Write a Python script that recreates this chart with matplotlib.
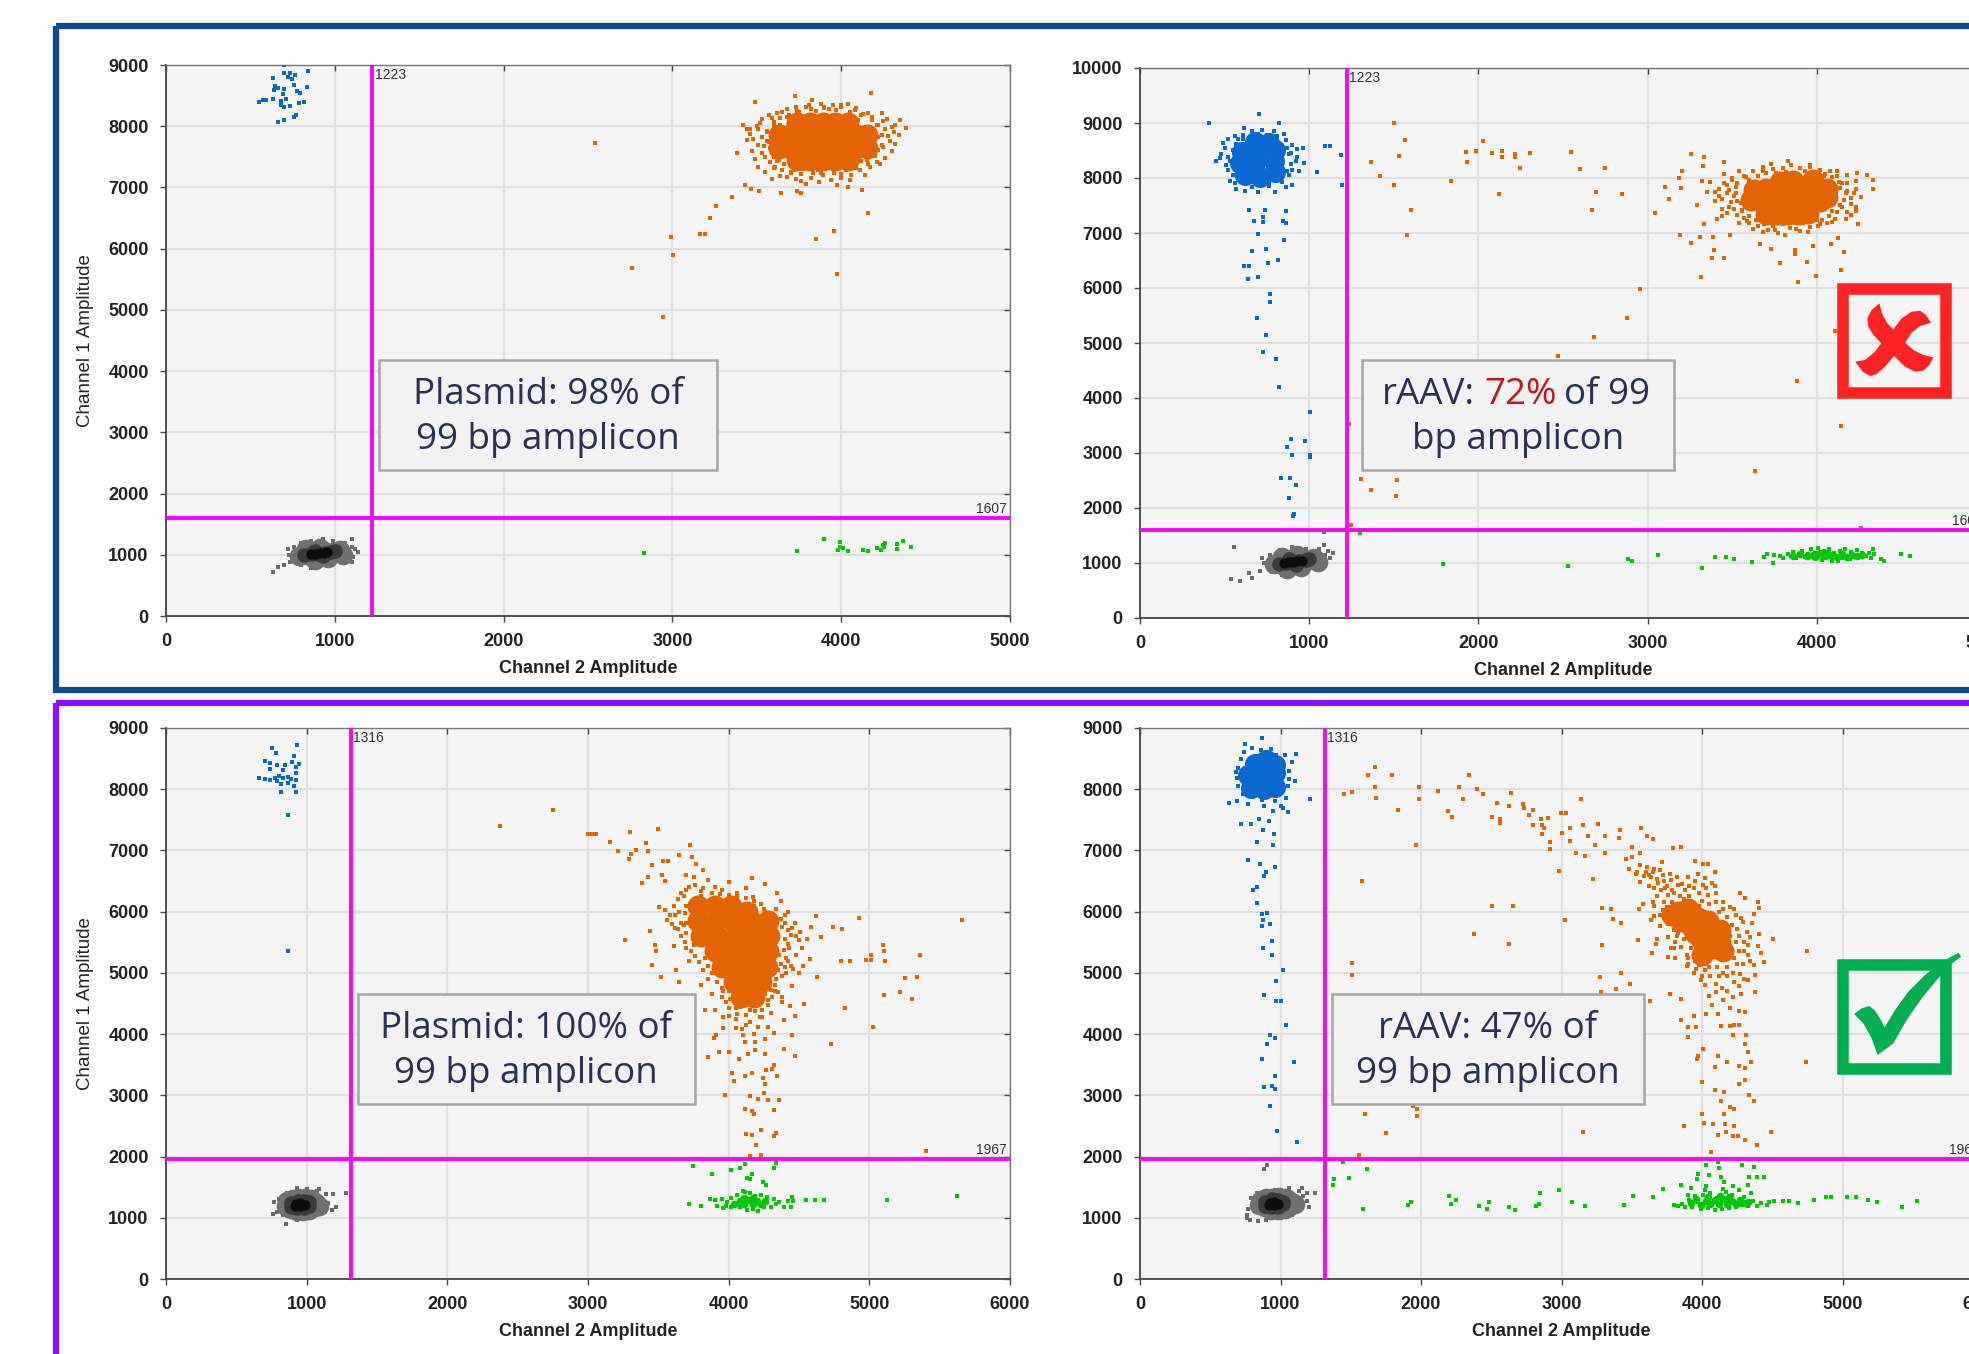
import matplotlib
matplotlib.use('Agg')
import matplotlib.pyplot as plt
from matplotlib.patches import Rectangle, Polygon
import matplotlib.lines as mlines

W, H = 1969, 1354

# Top-left panel: plasmid, threshold 1223 / 1607
a_blue = [(702,9000),(844,8894),(699,8873),(733,8866),(767,8838),(725,8802),(748,8767),(634,8788),(760,8681),
          (645,8653),(664,8625),(637,8590),(702,8604),(836,8639),(779,8582),(794,8540),(695,8519),(634,8448),
          (595,8433),(573,8426),(550,8391),(683,8412),(710,8448),(817,8398),(790,8384),(683,8341),(702,8306),
          (733,8327),(771,8185),(760,8150),(702,8100),(664,8065)]
a_orange = [(2542,7731),(2760,5683),(2989,6194),(3004,5903),(2943,4883),(3164,6236),(3195,6236),(3225,6505),
            (3256,6690),(3355,6845),(3431,7044),(3466,6980),(3515,6945),(3641,6902),(3737,6945),(3763,6902),
            (3851,6158),(3958,6293),(3977,5591),(4156,6590),(4126,6966),(4042,7001),(3977,7037),(3725,8497),
            (3492,8390),(4176,8539),(3828,8433),(4385,7972),(4347,8100),
            (3440,7950),(3460,7880),(3420,8020),(3500,8010),(3530,8120),(3570,8180),(3600,8070),(3650,8230),
            (3680,8150),(3740,8250),(3790,8310),(3850,8250),(3900,8320),(3950,8350),(4000,8310),(4040,8370),
            (4080,8260),(4130,8200),(4180,8150),(4240,8210),(4270,8120),(4300,7980),(4340,7860),(4290,7760),
            (4250,7660),(4200,7520),(4210,7420),(4170,7340),(4110,7280),(4060,7210),(4000,7150),(3940,7120),
            (3880,7230),(3820,7160),(3760,7100),(3700,7240),(3640,7180),(3590,7130),(3550,7260),(3510,7340),
            (3490,7470),(3530,7560),(3470,7600),(3510,7690),(3560,7760),(3380,7570),(3600,7320),(3660,7380),
            (3720,7290),(3790,7330),(3860,7350),(3950,7300),(4050,7350),(4120,7430),(4150,7550),(4180,7650),
            (4220,7820),(4150,7950),(4210,8020),(4100,8100),(3980,8190),(3880,8130),(3760,8130),(3640,8020),
            (3560,7920),(3600,7500),(3580,7640),(3630,7450),(4100,7600),(4000,7220),
            (3560,7900),(3590,7600),(3570,7750),(3600,8000),(3620,7440),(3640,8130),(3660,7380),(3690,8190),
            (3720,7340),(3750,8240),(3780,7300),(3820,8280),(3860,7290),(3900,8290),(3930,7310),(3970,8270),
            (4010,7340),(4050,8230),(4080,7390),(4120,8180),(4150,7450),(4180,8100),(4190,7520),(4220,8020),
            (4220,7610),(4260,7950),(4240,7700),(4240,7850),(3540,7680),(3530,7820),(3550,7500),(3580,7420),
            (3610,7340),(3650,7280),(3700,7260),(3760,7220),(3830,7240),(3890,7210),(3960,7240),(4030,7280),
            (4090,7320),(4160,7380),(3620,8210),(3680,8280),(3730,8320),(3810,8350),(3880,8360),(3930,8280),
            (4000,8340),(4090,8290),(4160,8220),(4250,8080),(4310,7900),(4280,7840),(4320,8020),(3510,7950),
            (3480,7790),(3520,8060),(3590,8130),(3460,7960),(3440,7770),(3680,7170),(3730,7130),(3790,7050),
            (3870,7090),(4050,7120),(4140,7200),(4260,7480),(4230,7380),(4300,7590),(4320,7710)]
a_orange_core = [(3740,7450),(3815,7450),(3890,7450),(3965,7450),(4040,7450),(3630,7650),(3695,7650),(3760,7650),(3825,7650),
                 (3890,7650),(3955,7650),(4020,7650),(4085,7650),(4150,7650),(3630,7850),(3695,7850),(3760,7850),(3825,7850),
                 (3890,7850),(3955,7850),(4020,7850),(4085,7850),(4150,7850),(3740,8050),(3815,8050),(3890,8050),(3965,8050),(4040,8050)]
a_green = [(2832,1035),(3737,1056),(3901,1254),(3993,1205),(3981,1084),(4012,1113),(4042,1056),(4130,1077),
           (4160,1056),(4214,1113),(4233,1077),(4260,1198),(4252,1127),(4329,1169),(4329,1098),(4367,1219),
           (4412,1127),(3995,1120),(4245,1165)]
a_gray = [(634,723),(664,794),(702,830),(735,880),(730,1000),(720,1090),(760,1130),(800,1190),(860,1230),(930,1250),(990,1230),
          (1060,1190),(1100,1130),(1140,1040),(1100,1260),(1110,960),(1060,900),(980,850),(900,800),(860,790),
          (800,840),(1120,1100),(1100,880),(770,900)]
a_gray_mid = [(790,980),(830,1000),(870,1010),(910,1020),(950,1040),(990,1050),(1030,1070),(830,1090),(910,1110),(880,920),(960,950),(1050,990)]
a_gray_dark = [(820,1000),(860,1010),(900,1020),(940,1030),(980,1050),(1000,1060),(880,1060),(930,980)]
a_black = [(860,1015),(885,1020),(910,1030),(935,1035),(955,1040)]

# Top-right panel: rAAV, threshold 1223 / 1607
b_blue = [(406,8999),(703,9164),(819,8999),(612,8912),(966,8550),(1092,8581),(1123,8581),(1186,8424),(1046,8101),
          (1193,7880),(647,7423),(738,7423),(864,7391),(724,7289),(724,7194),(672,7226),(847,7226),(864,7187),
          (700,6982),(850,6879),(661,6667),(745,6706),(815,6509),(759,6446),(616,6399),(644,6399),(640,6162),
          (700,6194),(766,5886),(766,5745),(693,5461),(745,5138),(724,4830),(801,4704),(822,4200),(1004,3743),
          (892,3262),(976,3223),(871,3105),(899,2963),(1004,2971),(1004,2931),(836,2545),(885,2537),(924,2411),
          (878,2190),(913,1891),(906,1852),
          (480,8430),(470,8370),(490,8640),(520,8700),(560,8760),(610,8790),(660,8850),(720,8870),(790,8860),
          (850,8800),(900,8600),(930,8520),(970,8270),(920,8300),(940,8130),(880,8050),(840,7920),(900,7880),
          (800,7740),(700,7740),(620,7760),(570,7800),(530,7950),(520,8140),(450,8300),(560,7900),(860,7830),
          (760,7850),(660,7840),(500,8550),(930,8380),(890,8460),
          (530,8300),(510,8230),(550,8500),(570,8620),(610,8700),(650,8740),(700,8800),(750,8790),(810,8760),
          (860,8690),(870,8550),(880,8430),(890,8250),(870,8130),(840,8020),(810,7950),(760,7930),(700,7910),
          (640,7940),(600,8000),(550,8060),(520,8380),(580,8700),(840,8430),(900,8150)]
b_blue_core = [(620,8050),(710,8020),(800,8100),(590,8280),(680,8280),(790,8300),(600,8480),(700,8520),(800,8500),
               (680,8650),(760,8640)]
b_orange = [(1501,8991),(1564,8692),(1529,8400),(1368,8298),(1417,8030),(1501,7880),(1599,7423),(1578,6958),
            (1841,7943),(1928,8471),(1935,8298),(1988,8495),(2030,8668),(2082,8447),(2142,8495),(2142,8376),
            (2215,8432),(2219,8376),(2243,8179),(2303,8447),(2121,7707),(2548,8471),(2600,8164),(2751,8179),
            (2695,7746),(2670,7423),(2849,7707),(2954,5981),(2880,5461),(2684,5114),(2471,4767),(3041,7360),
            (3101,7841),(3188,7998),(3202,8124),(3195,7817),(3125,7620),(3192,6966),(3258,6816),(3314,6202),
            (3381,6548),(3454,6548),(3391,6690),(3258,8432),(3335,8376),(3328,8219),(3451,8282),(3888,6107),
            (3993,6225),(4144,6328),(4161,6659),(3944,6470),(3783,6446),(3871,6619),(4105,5224),(3885,4302),
            (4144,3499),(3636,2671),(4263,1639),(4333,7959),(4333,7793),(4294,8061),(4238,8093),(4245,7163),
            (4231,7478),(4126,6903),(4081,6800),(3293,7510),(3335,7171),(3311,6919),(3384,6926),(3486,6958),
            (3664,6800),(3727,6706),(3976,6761),(3874,6682),(1235,3522),(1305,2522),(1368,2325),(1519,2506),
            (1515,2214),(1246,1694),
            (3320,7950),(3370,7920),(3350,7750),(3420,7670),(3400,7580),(3450,8070),(3500,8000),(3520,7830),
            (3470,7720),(3480,7480),(3530,7580),(3410,7250),(3440,7300),(3560,7420),(3570,7280),(3600,7190),
            (3620,7080),(3680,7010),(3750,7060),(3810,6970),(3880,7080),(3950,7020),(4010,7120),(4060,7180),
            (4110,7260),(4180,7380),(4140,7510),(4200,7640),(4180,7760),(4150,7900),(4120,8040),(4080,8120),
            (4020,8150),(3960,8230),(3900,8190),(3830,8310),(3800,8180),(3730,8250),(3680,8130),(3620,8130),
            (3580,8010),(3540,8120),(3600,7900),(3470,7870),(3510,7680),(3650,7250),(3720,7180),(3790,7190),
            (3870,7180),(3940,7210),(4000,7240),(4090,7400),(4100,7850),(4040,8030),
            (3530,7900),(3550,7540),(3520,7720),(3560,7400),(3600,7300),(3640,7230),(3690,7170),(3740,7120),
            (3800,7160),(3860,7200),(3920,7190),(3980,7260),(4030,7230),(4070,7310),(4120,7380),(4150,7480),
            (4160,7600),(4170,7720),(4140,7820),(4130,7930),(4090,8010),(4050,8070),(3990,8100),(3930,8130),
            (3880,8060),(3820,8110),(3760,8090),(3700,8090),(3650,8030),(3600,7960),(3570,8040),(3500,7960),
            (3450,7900),(3480,7780),(3420,7800),(3400,7740),(3440,7620),(3490,7570),(3510,7430),(3440,7430),
            (3470,7360),(3530,7330),(3590,7220),(3540,7180),(3650,7120),(3710,7060),(3770,7000),(3840,7090),
            (3900,7030),(3960,7110),(4020,7160),(4090,7200),(4170,7250),(4200,7330),(4230,7400),(4200,7520),
            (4220,7730),(4230,7800),(4260,7650),(4180,7900),(4230,7950),(4180,8050),(4120,8130),(3960,8200),
            (3850,8230),(3740,8170),(3680,8200)]
b_orange_core = [(3700,7350),(3770,7340),(3830,7340),(3890,7350),(3950,7370),(3610,7600),(3680,7560),(3750,7560),(3820,7570),
                 (3880,7580),(3950,7570),(4020,7580),(4060,7650),(3630,7780),(3700,7800),(3800,7800),(3920,7830),(3990,7830),
                 (4060,7800),(3780,7920),(3860,7950),(3980,7960)]
b_green = [(1788,977),(2527,953),(2887,1064),(2908,1040),(3062,1150),(3321,906),(3398,1103),(3461,1103),(3510,1064),
           (3615,1024),(3686,1111),(3707,1166),(3741,1001),(3748,1142),(4378,1064),(4396,1040),(4497,1166),(4550,1127),
           (1298,1537),(3780,1130),(3800,1090),(3830,1160),(3850,1120),(3860,1200),(3880,1090),(3900,1150),(3910,1220),
           (3930,1100),(3950,1170),(3965,1260),(3980,1100),(3990,1190),(4010,1280),(4020,1130),(4030,1060),(4040,1220),
           (4060,1150),(4070,1260),(4080,1100),(4090,1040),(4100,1190),(4115,1130),(4125,1030),(4140,1210),(4150,1090),
           (4165,1250),(4180,1130),(4195,1070),(4205,1200),(4220,1110),(4235,1240),(4250,1130),(4265,1180),(4290,1130),
           (4310,1190),(4335,1260),(4340,1160),(4320,1090)]
b_green_core = [(3860,1130),(3900,1160),(3940,1130),(3980,1150),(4020,1190),(4050,1120),(4090,1150),(4120,1100),
                (4150,1160),(4180,1110),(4210,1150),(4240,1120),(4270,1150),(4060,1190),(3990,1110)]
b_gray = [(556,1284),(539,717),(591,670),(647,812),(661,733),(710,850),(1088,1560),
          (730,1000),(720,1090),(770,1150),(830,1230),(900,1290),(980,1260),(1060,1260),(1110,1220),(1141,1180),
          (1120,1090),(1060,980),(1000,900),(920,830),(840,780),(780,840),(1085,1320),(1095,1140)]
b_gray_mid = [(790,980),(830,990),(870,1000),(910,1020),(950,1040),(990,1060),(1030,1090),(840,1110),(930,1140),(870,890),(950,920),(1050,1010)]
b_gray_dark = [(820,990),(860,1000),(900,1020),(940,1030),(980,1050),(1000,1070),(880,1070),(920,970)]
b_black = [(850,1005),(880,1015),(905,1025),(930,1030),(955,1035)]

# Bottom-left panel: plasmid, threshold 1316 / 1967
c_blue = [(930,8723),(751,8675),(779,8585),(911,8536),(701,8467),(742,8432),(898,8446),(943,8411),(925,8356),
          (788,8390),(843,8390),(742,8328),(834,8308),(925,8259),(660,8190),(705,8169),(742,8148),(774,8190),
          (806,8217),(834,8183),(866,8204),(889,8169),(925,8155),(788,8134),(820,8086),(870,8100),(911,8045),
          (820,7961),(925,7961),(870,7581),(870,5352)]
c_orange = [(2372,7394),(2753,7657),(3000,7269),(3027,7276),(3055,7276),(3156,7131),(3302,7304),(3499,7353),(3210,6999),
            (3412,7117),(3343,7013),(3430,6992),(3307,6937),(3293,6854),(3728,7082),(3646,6923),(3531,6833),(3568,6833),
            (3453,6764),(3430,6563),(3385,6473),(3527,6591),(3545,6508),(3742,6888),(3765,6785),(3820,6681),(3696,6598),
            (3508,6072),(3545,6023),(3261,5545),(3444,5691),(3476,5449),(3485,5352),(3453,5137),(3627,5054),(3522,4936),
            (3646,4846),(3614,5435),(4621,5933),(4924,5899),(4740,5746),(4809,5725),(5661,5864),(4585,5746),(4653,5587),
            (5098,5449),(5107,5358),(5010,5296),(5010,5213),(4979,5213),(5111,5192),(4800,5192),(4864,5192),(5359,5296),
            (5253,4915),(5340,4936),(5107,4645),(5217,4687),(5304,4569),(4827,4431),(5024,4112),(4727,3842),(4575,5227),
            (4630,4936),(4534,4486),(4475,3635),(4452,3981),(4392,3752),(3856,3621),(3893,3932),(3911,3981),(3971,2998),
            (4026,3358),(4040,3240),(4117,3323),(4163,3358),(4241,3288),(4324,3496),(4305,3427),(4268,3413),(4346,3323),
            (4255,3185),(4117,2769),(4163,2749),(4154,2991),(4250,3046),(4209,2942),(4278,2921),(4360,2921),(4324,2755),
            (4177,2700),(4126,2375),(4163,2354),(4232,2437),(4337,2388),(4324,2333),(4191,2195),(4232,2028),(4149,2008),
            (5400,2098),(3934,3704),(4003,3704),(4072,3600),(4140,3669),(4186,3738),(4255,3669),(4117,3877),(4186,3877),
            (4255,3912),(4094,4085),(4209,4119),(4278,4119),(4324,4015),(4392,4223),(4438,4465),(4470,4292),
            (3650,6000),(3680,6250),(3720,6400),(3750,6560),(3800,6340),(3850,6520),(3900,6400),(3950,6350),(4000,6480),
            (4060,6300),(4120,6380),(4165,6550),(4170,6240),(4260,6450),(4345,6300),(4370,6180),(4340,6050),(4400,5940),
            (4450,5740),(4480,5600),(4420,5480),(4500,5540),(4480,5300),(4440,5120),(4410,5000),(4450,4780),(4350,4680),
            (4380,4520),(4300,4350),(4220,4280),(4150,4400),(4050,4430),(3980,4520),(3950,4750),(3850,4900),(3820,5050),
            (3760,5280),(3700,5400),(3660,5600),(3620,5730),(3700,5820),(3760,5630),(3800,5480),(3850,5280),(3900,5120),
            (4340,4900),(4300,5100),(4360,5300),(4300,5600),(4340,5820),(4250,6050),(4180,6100),(3950,4600),(4050,4250),
            (4150,4200),(4260,4650),(4220,4530),(3900,4400),(3960,4280),(4100,3980),(4280,4550),(4380,5750),(3700,6100),
            (3780,6150),(4290,5950),(3720,5200),(3660,5820),(4420,5200),(4000,4700),
            (3620,5950),(3640,6200),(3610,6100),(3660,6300),(3700,6350),(3760,6430),(3820,6380),(3880,6300),(3940,6290),
            (4000,6270),(4060,6250),(4120,6220),(4180,6180),(4140,6100),(4230,6120),(4260,6000),(4310,5950),(4370,5880),
            (4400,5820),(4420,5700),(4440,5620),(4400,5560),(4430,5400),(4390,5380),(4410,5250),(4370,5150),(4400,5100),
            (4350,5040),(4380,4950),(4330,4800),(4300,4720),(4310,4600),(4280,4470),(4240,4400),(4190,4380),(4120,4320),
            (4080,4450),(4060,4330),(4010,4570),(4000,4420),(3960,4700),(3920,4850),(3880,5000),(3850,5120),(3790,5180),
            (3830,5250),(3750,5450),(3730,5350),(3690,5500),(3700,5650),(3640,5720),(3680,5780),(3600,5800),(3580,5950),
            (3560,5870),(3690,5980),(3740,6100),(3800,6250),(3900,6200),(4180,4550),(4250,4850),(4330,4700),(4380,4600),
            (4120,4150),(4180,4000),(4240,4280),(4000,4300),(4050,4100),(3960,4100),(4460,5060),(4500,5000),(4530,5120),
            (4520,5400),(4560,5560),(4470,5820),(4510,5660),(4420,6000),(3830,4400),(3880,4650),(3800,4800)]
c_orange_core = [(3780,6100),(3900,6100),(4020,6100),(3780,5850),(3900,5850),(4030,5850),(4160,5850),(4280,5850),
                 (3800,5600),(3920,5600),(4050,5600),(4180,5600),(4290,5600),(3900,5350),(4020,5350),(4150,5350),(4280,5350),
                 (3950,5100),(4060,5100),(4180,5100),(4270,5100),(4040,4850),(4140,4850),(4230,4850),(4090,4600),(4180,4600),
                 (4130,6000)]
c_green = [(3746,1848),(3884,1710),(4017,1786),(4081,1814),(4113,1883),(4127,1648),(4163,1710),(4154,1627),(4241,1578),
           (4268,1537),(4324,1814),(4337,1890),(3719,1232),(3806,1198),(3866,1301),(3920,1191),(3957,1163),(4552,1295),
           (4612,1295),(4676,1295),(5125,1295),(5620,1350),
           (3900,1290),(3950,1300),(3990,1260),(4020,1330),(4040,1220),(4060,1380),(4080,1170),(4100,1440),(4115,1420),
           (4130,1130),(4150,1400),(4170,1150),(4190,1350),(4210,1110),(4230,1380),(4250,1180),(4270,1340),(4300,1170),
           (4320,1300),(4340,1220),(4360,1260),(4390,1180),(4420,1280),(4450,1340),(4460,1280),(4440,1170),(4020,1170),
           (3980,1200)]
c_green_core = [(4040,1230),(4080,1280),(4110,1220),(4140,1290),(4170,1230),(4200,1280),(4230,1230),(4260,1270),(4110,1330),(4170,1320)]
c_gray = [(852,900),(1278,1405),(1186,1385),(1140,1390),(1085,1468),(1070,1440),(790,1100),(760,1060),(770,1250),(830,1040),
          (800,1300),(860,1410),(930,1480),(1000,1470),(1060,1420),(1150,1240),(1205,1170),(1180,1120),(1130,1100),
          (1070,1060),(1000,1000),(930,970),(1100,1330)]
c_gray_mid = [(850,1190),(890,1150),(930,1110),(975,1110),(1020,1130),(1060,1170),(1090,1200),(1060,1260),(1030,1300),
              (985,1320),(940,1320),(900,1300),(860,1270),(950,1220)]
c_gray_dark = [(890,1180),(930,1160),(980,1160),(1020,1200),(1020,1250),(980,1280),(940,1280),(890,1240),(950,1220)]
c_black = [(920,1190),(955,1190),(985,1210),(955,1235),(925,1225)]

# Bottom-right panel: rAAV, threshold 1316 / 1967
d_blue = [(869,8841),(747,8744),(633,7768),(688,7809),(768,7754),(1207,7844),(717,7428),(793,7428),(844,7512),(916,7477),
          (878,7338),(954,7269),(835,7131),(945,7096),(768,6840),(852,6785),(958,6729),(899,6646),(886,6577),(835,6404),
          (806,6355),(831,6141),(865,5954),(907,5975),(878,5871),(928,5801),(869,5774),(941,5525),(873,5414),(941,5296),
          (1017,5040),(966,4867),(882,4645),(970,4548),(1000,4548),(1038,4154),(928,3981),(958,3939),(907,3842),(865,3586),
          (1097,3551),(962,3316),(882,3136),(937,3150),(958,3101),(924,2818),(975,2416),(1118,2236),
          (700,8050),(690,8190),(700,8350),(720,8500),(740,8600),(800,8680),(860,8640),(930,8650),(970,8560),(1030,8560),
          (1110,8570),(1080,8450),(1060,8300),(1100,8130),(1050,8050),(1000,7950),(1040,7850),(1000,7730),(950,7640),
          (880,7720),(800,7880),(730,7920),(1020,7700),(1050,7630),(960,7800),(870,7820),(1060,8170),(680,8280)]
d_blue_core = [(790,8020),(880,8000),(960,8040),(770,8240),(870,8240),(960,8260),(820,8420),(900,8470),(960,8400)]
d_orange = [(1675,8370),(1624,8238),(1793,8238),(1675,8031),(1510,7961),(1451,7927),(1683,7858),(1983,8038),(1983,7837),
            (1839,7664),(2118,7975),(2274,8038),(2342,8232),(2299,7844),(2401,7996),(2443,7927),(2641,7941),(2540,7768),
            (2624,7726),(2725,7754),(2734,7699),(2190,7650),(2219,7546),(2506,7546),(2565,7512),(2565,7442),(2797,7657),
            (2772,7574),(2797,7421),(2852,7512),(2903,7532),(2861,7421),(2861,7269),(2877,7373),(2995,7615),(3029,7615),
            (3139,7844),(2915,7131),(2920,7027),(3000,7290),(3059,7359),(3059,7152),(3101,6958),(3156,7408),(3257,7428),
            (3190,7235),(3240,7096),(3164,6909),(3312,7235),(3417,7338),(3409,7200),(3312,6958),(3569,7373),(3607,7235),
            (3654,7186),(3502,7061),(3557,6958),(3797,7048),(3848,7061),(3713,6819),(3460,6854),(3953,6833),(4008,6771),
            (4042,6771),(4093,6646),(4071,6473),(4274,6300),(4303,6231),(4396,6162),(4409,6058),(4367,5954),(4354,5815),
            (4409,5628),(4506,5553),(4396,5435),(4417,5331),(4438,5178),(4367,5123),(4379,4971),(4379,4687),(4746,5352),
            (4738,3545),(1962,7096),(1582,6494),(2983,6667),(3223,6529),(2506,6099),(2658,6099),(2380,5628),(2624,5469),
            (3025,5864),(3291,6058),(3354,6037),(3367,5885),(3426,5822),(3291,5448),(3544,5539),(3671,5469),(3641,5331),
            (3755,5262),(1510,5158),(1510,4964),(3274,4936),(3422,4998),(3489,4825),(3388,4742),(3282,4687),(3628,4535),
            (3772,4652),(3848,4569),(1603,2700),(1975,2769),(1975,2665),(1941,2825),(1751,2388),(3156,2395),(4493,2395),
            (3869,2492),(1561,2022),
            (4000,2700),(4017,2548),(4080,2527),(4164,2527),(4228,2492),(4114,2354),(4168,2409),(4219,2340),(4253,2340),
            (4303,2271),(4388,2195),(4063,2077),(4156,2700),(4198,2804),(4228,2783),(4135,2908),(4156,3060),(4093,3081),
            (4261,3185),(4303,3254),(4337,3012),(4367,2908),(4000,3219),(4093,3461),(4114,3635),(4177,3551),(4261,3476),
            (4303,3448),(4346,3551),(4329,3704),(4303,3842),(4316,3981),(4219,3981),(4228,4154),(4135,4133),(4198,4133),
            (4261,4154),(4303,4362),(4261,4382),(4198,4431),(4114,4327),(4071,4479),(3966,3586),(4008,3752),(3974,3635),
            (3903,3960),(3848,4223),(3903,4119),(3958,4119),(3945,4292),(4029,4327),
            (3480,6700),(3530,6620),(3560,6770),(3600,6650),(3640,6560),(3660,6700),(3690,6470),(3720,6600),(3740,6380),
            (3780,6520),(3620,6420),(3560,6480),(3800,6300),(3830,6440),(3870,6200),(3900,6560),(3940,6380),(3970,6620),
            (4010,6440),(4040,6270),(4100,6300),(4150,6150),(4200,6080),(4240,5950),(4290,5830),(4320,5660),(4300,5500),
            (4330,5300),(4290,5150),(4270,4980),(4330,4880),(4260,4780),(4180,4700),(4100,4820),(4050,4630),(3990,4880),
            (3940,5000),(3890,5120),(3810,5250),(3780,5410),(3760,5590),(3700,5760),(3640,5860),(3720,6030),(3660,6100),
            (3580,6120),(3550,6040),(4180,4950),(4230,5250),(4240,5500),(4210,5780),(4120,6000),(3820,5600),(3840,5980),
            (4120,4950),(4050,5100),(3900,5250),(4340,5580),(4150,5000),(3680,5560),(4000,6180),
            (3500,6900),(3540,6650),(3590,6580),(3610,6730),(3650,6650),(3680,6540),(3700,6680),(3730,6500),(3750,6420),
            (3770,6620),(3790,6350),(3820,6560),(3840,6250),(3860,6450),(3880,6350),(3910,6250),(3620,6600),(3660,6380),
            (3710,6350),(3760,6280),(3680,6250),(3730,6150),(3790,6150),(3650,6150),(3750,6080),(3700,5950),(3660,5930),
            (3800,5700),(3760,5800),(3830,5650),(3810,5500),(3870,5560),(3850,5420),(3890,5300),(3920,5400),(3950,5200),
            (3980,5130),(4020,5050),(4060,4950),(4110,5100),(4180,5100),(4140,4750),(4100,4680),(4150,4550),(4220,4600),
            (4230,4850),(4280,4650),(4300,4900),(4200,5300),(4260,5350),(4300,5350),(4260,5600),(4330,5450),(4200,5600),
            (4180,5750),(4250,5720),(4280,5900),(4180,5920),(4230,6050),(4150,6050),(4100,6150),(4050,6120),(3980,6300),
            (4030,6380),(4090,6420),(4020,6550),(3950,6500),(3910,6420),(3980,6100),(4020,6000),(4100,5900),(4140,5800),
            (4090,5750),(4150,5650),(3800,5400),(3900,5150),(4000,4950),(4020,4800),(3960,5060),(4220,5000),(4340,5200),
            (4250,5150)]
d_orange_core = [(3830,6000),(3900,6050),(3970,5900),(3850,5850),(3930,5750),(4010,5750),(4060,5600),(4130,5500),
                 (3990,5550),(4070,5400),(4150,5350),(4000,5300),(3920,5950),(3790,5950),(4040,5850),(4130,5700),(3950,5650)]
d_green = [(1371,1537),(1380,1641),(1447,1904),(1489,1648),(1616,1800),(1586,1142),(1907,1212),(1928,1260),(2198,1350),
           (2215,1232),(2249,1295),(2413,1198),(2468,1142),(2481,1260),(2628,1177),(2666,1121),(2818,1198),(2839,1232),
           (2844,1405),(2983,1454),(3076,1260),(3164,1198),(3447,1212),(3510,1350),(3654,1336),(3721,1468),(3848,1537),
           (4029,1869),(4114,1904),(4122,1814),(4282,1855),(4367,1835),(3974,1710),(3966,1627),(4050,1696),(4135,1662),
           (4156,1592),(4337,1662),(4388,1662),(4438,1662),(3924,1488),(4029,1523),(4219,1523),(4325,1537),(4514,1281),
           (4578,1281),(4619,1267),(4683,1246),(4797,1295),(4886,1336),(4915,1336),(5029,1336),(5097,1336),(5181,1295),
           (5244,1260),(5426,1177),(5527,1281),
           (3800,1210),(3830,1190),(3860,1230),(3880,1180),(3910,1290),(3930,1170),(3950,1350),(3970,1260),(3990,1140),
           (4010,1380),(4040,1160),(4060,1400),(4090,1130),(4110,1330),(4140,1140),(4170,1420),(4190,1160),(4210,1370),
           (4240,1180),(4260,1450),(4280,1210),(4300,1340),(4330,1200),(4360,1280),(4390,1200),(4420,1240),(4460,1210),
           (4480,1260),(3900,1380),(4020,1450),(4150,1470),(4350,1400)]
d_green_core = [(3920,1240),(3960,1300),(3990,1210),(4030,1280),(4060,1220),(4090,1290),(4120,1220),(4150,1300),(4180,1220),
                (4210,1280),(4240,1230),(4270,1290),(4300,1240),(4330,1260),(4040,1340),(4130,1350),(4190,1340)]
d_gray = [(886,1800),(907,1855),(1245,1398),(1190,1410),(1150,1490),(760,1050),(770,1150),(790,1330),(830,1400),(760,1000),
          (900,1440),(960,1460),(1060,1480),(1130,1430),(1190,1270),(1200,1180),(1140,1120),(1080,1050),(1000,990),
          (900,960),(840,940),(780,970),(1160,1350)]
d_gray_mid = [(850,1210),(890,1170),(930,1130),(980,1130),(1030,1150),(1070,1190),(1100,1230),(1070,1280),(1040,1320),
              (990,1340),(940,1330),(900,1320),(860,1290),(950,1230)]
d_gray_dark = [(890,1200),(930,1180),(980,1180),(1020,1220),(1020,1260),(980,1290),(940,1300),(890,1260),(950,1240)]
d_black = [(920,1215),(955,1215),(985,1230),(955,1255),(925,1245)]

# labels of the grey boxes
box_a = ['Plasmid: 98% of', '99 bp amplicon']
box_c = ['Plasmid: 100% of', '99 bp amplicon']
box_d = ['rAAV: 47% of', '99 bp amplicon']
box_b_first = ['rAAV:', '72%', 'of 99']
box_b_second = 'bp amplicon'

x_ticks_ab = [0, 1000, 2000, 3000, 4000, 5000]
x_ticks_cd = [0, 1000, 2000, 3000, 4000, 5000, 6000]
y_ticks_9k = [0, 1000, 2000, 3000, 4000, 5000, 6000, 7000, 8000, 9000]
y_ticks_10k = y_ticks_9k + [10000]

x_cross = [(298,160),(306,190),(322,220),(340,238),(365,205),(395,185),(420,182),(438,195),(453,218),(420,228),(395,248),
           (375,278),(400,300),(430,315),(460,322),(448,345),(430,362),(405,365),(375,350),(342,318),(315,350),(290,372),
           (270,378),(248,365),(226,335),(255,330),(285,305),(304,280),(280,255),(265,230),(262,205),(275,180)]
check_mark = [(222,252),(245,235),(268,228),(285,242),(300,265),(314,292),(345,240),(385,185),(430,140),(480,98),(536,68),
              (543,80),(510,105),(470,150),(425,205),(380,270),(340,340),(293,375),(275,325),(250,280)]

plt.rcParams['font.family'] = ['Liberation Sans', 'DejaVu Sans']

BLUE = '#0a68d2'
ORANGE = '#e36400'
GREEN = '#00c800'
MAGENTA = '#ff00ff'
TEXT_DARK = '#2b3154'

fig = plt.figure(figsize=(W / 100, H / 100), dpi=100, facecolor='white')


def axes_at(left, top, right, bottom):
    return fig.add_axes([left / W, 1 - bottom / H, (right - left) / W, (bottom - top) / H])


def scatter(ax, pts, color, size, z=3, marker='s'):
    xs = [p[0] for p in pts]
    ys = [p[1] for p in pts]
    ax.scatter(xs, ys, s=size, c=color, marker=marker, linewidths=0, zorder=z)


def panel(rect, xmax, ymax, xticks, yticks, vx, hy, blue, orange, orange_core, green, gray, mid, dark, black,
          blue_core=None, green_core=None, ylabel=True):
    ax = axes_at(*rect)
    ax.set_facecolor('#f5f5f5')
    ax.set_xlim(0, xmax)
    ax.set_ylim(0, ymax)
    ax.set_xticks(xticks)
    ax.set_yticks(yticks)
    ax.grid(True, color='#e0e0e0', lw=1.6, zorder=0)
    ax.set_axisbelow(True)
    ax.tick_params(length=4.5, width=1.0, color='#444444', labelsize=13, pad=8, top=True, right=True)
    for t in ax.yaxis.get_major_ticks():
        t.tick2line.set_marker(mlines.TICKLEFT)
    for t in ax.xaxis.get_major_ticks():
        t.tick2line.set_marker(mlines.TICKDOWN)
    for lab in ax.get_xticklabels() + ax.get_yticklabels():
        lab.set_fontweight('bold')
        lab.set_color('#222222')
    for side in ['left', 'bottom']:
        ax.spines[side].set_color('#444444')
        ax.spines[side].set_linewidth(1.3)
    for side in ['top', 'right']:
        ax.spines[side].set_color('#777777')
        ax.spines[side].set_linewidth(1.0)
    ax.set_xlabel('Channel 2 Amplitude', fontsize=13, fontweight='bold', color='#222222')
    ax.xaxis.set_label_coords(0.5, -0.08)
    if ylabel:
        ax.set_ylabel('Channel 1 Amplitude', fontsize=13.5, color='#222222')
        ax.yaxis.set_label_coords(-0.085, 0.5)

    # droplet clouds
    scatter(ax, gray, '#6a6a6a', 9)
    scatter(ax, mid, '#707070', 200, marker='o')
    scatter(ax, dark, '#3a3a3a', 110, z=4, marker='o')
    scatter(ax, black, '#0c0c0c', 55, z=5, marker='o')
    scatter(ax, orange, ORANGE, 9)
    scatter(ax, orange_core, ORANGE, 250, marker='o')
    scatter(ax, blue, BLUE, 9)
    if blue_core:
        scatter(ax, blue_core, BLUE, 230, marker='o')
    scatter(ax, green, GREEN, 9)
    if green_core:
        scatter(ax, green_core, GREEN, 30, marker='o')

    # thresholds
    ax.axvline(vx, color=MAGENTA, lw=2.8, zorder=6)
    ax.axhline(hy, color=MAGENTA, lw=2.8, zorder=6)
    ax.annotate(str(vx), (vx, ymax), xytext=(1.5, -7), textcoords='offset points', fontsize=10,
                color='#333333', va='center', ha='left', annotation_clip=False)
    ax.annotate(str(hy), (xmax, hy), xytext=(-2, 6.5), textcoords='offset points', fontsize=10,
                color='#333333', va='center', ha='right', annotation_clip=False)
    return ax


panel((166, 65, 1010, 616), 5000, 9000, x_ticks_ab, y_ticks_9k, 1223, 1607, a_blue, a_orange, a_orange_core,
      a_green, a_gray, a_gray_mid, a_gray_dark, a_black)
panel((1140, 68, 1986, 618), 5000, 10000, x_ticks_ab, y_ticks_10k, 1223, 1607, b_blue, b_orange, b_orange_core,
      b_green, b_gray, b_gray_mid, b_gray_dark, b_black, blue_core=b_blue_core, green_core=b_green_core, ylabel=False)
panel((166, 728, 1010, 1279), 6000, 9000, x_ticks_cd, y_ticks_9k, 1316, 1967, c_blue, c_orange, c_orange_core,
      c_green, c_gray, c_gray_mid, c_gray_dark, c_black, green_core=c_green_core)
panel((1140, 728, 1983, 1279), 6000, 9000, x_ticks_cd, y_ticks_9k, 1316, 1967, d_blue, d_orange, d_orange_core,
      d_green, d_gray, d_gray_mid, d_gray_dark, d_black, blue_core=d_blue_core, green_core=d_green_core, ylabel=False)

# overlay in pixel coordinates: frames, note boxes, icons
over = fig.add_axes([0, 0, 1, 1], zorder=10)
over.set_xlim(0, W)
over.set_ylim(H, 0)
over.axis('off')
over.patch.set_alpha(0)

over.add_patch(Rectangle((55.5, 26), W, 664, fill=False, ec='#0b4a8f', lw=4.5))
over.add_patch(Rectangle((55.5, 703), W, H, fill=False, ec='#8b10f5', lw=4.5))

BOX_FONT = {'family': ['Open Sans', 'DejaVu Sans'], 'fontsize': 26.5, 'color': TEXT_DARK, 'va': 'center'}
for x0, x1, y0, y1 in [(379, 717, 360, 470), (1362, 1674, 360, 470), (358, 695, 994, 1104), (1332, 1644, 994, 1104)]:
    over.add_patch(Rectangle((x0, y0), x1 - x0, y1 - y0, fc='#f2f2f2', ec='#a6a6a6', lw=1.8, zorder=2))

for (cx, cy), lines in [((548, 395), box_a), ((526, 1029), box_c), ((1488, 1029), box_d)]:
    over.text(cx, cy, lines[0], ha='center', zorder=3, **BOX_FONT)
    over.text(cx, cy + 45.5, lines[1], ha='center', zorder=3, **BOX_FONT)

over.text(1382, 395, box_b_first[0], ha='left', zorder=3, **BOX_FONT)
red_font = dict(BOX_FONT, color='#c8141e')
over.text(1484, 395, box_b_first[1], ha='left', zorder=3, **red_font)
over.text(1564, 395, box_b_first[2], ha='left', zorder=3, **BOX_FONT)
over.text(1518, 440.5, box_b_second, ha='center', zorder=3, **BOX_FONT)

# red cross icon
over.add_patch(Rectangle((1842.5, 289), 103.5, 104, fill=False, ec='#ff2222', lw=8.3, zorder=4))
over.add_patch(Polygon([(1780 + x / 3, 250 + y / 3) for x, y in x_cross], fc='#ff2222', ec='none', zorder=5))

# green tick icon
over.add_patch(Rectangle((1842.5, 965), 103.5, 104, fill=False, ec='#00b050', lw=8.3, zorder=4))
over.add_patch(Polygon([(1780 + x / 3, 930 + y / 3) for x, y in check_mark], fc='#00b050', ec='none', zorder=5))

plt.savefig('out.png', dpi=100, facecolor='white')
plt.close()
